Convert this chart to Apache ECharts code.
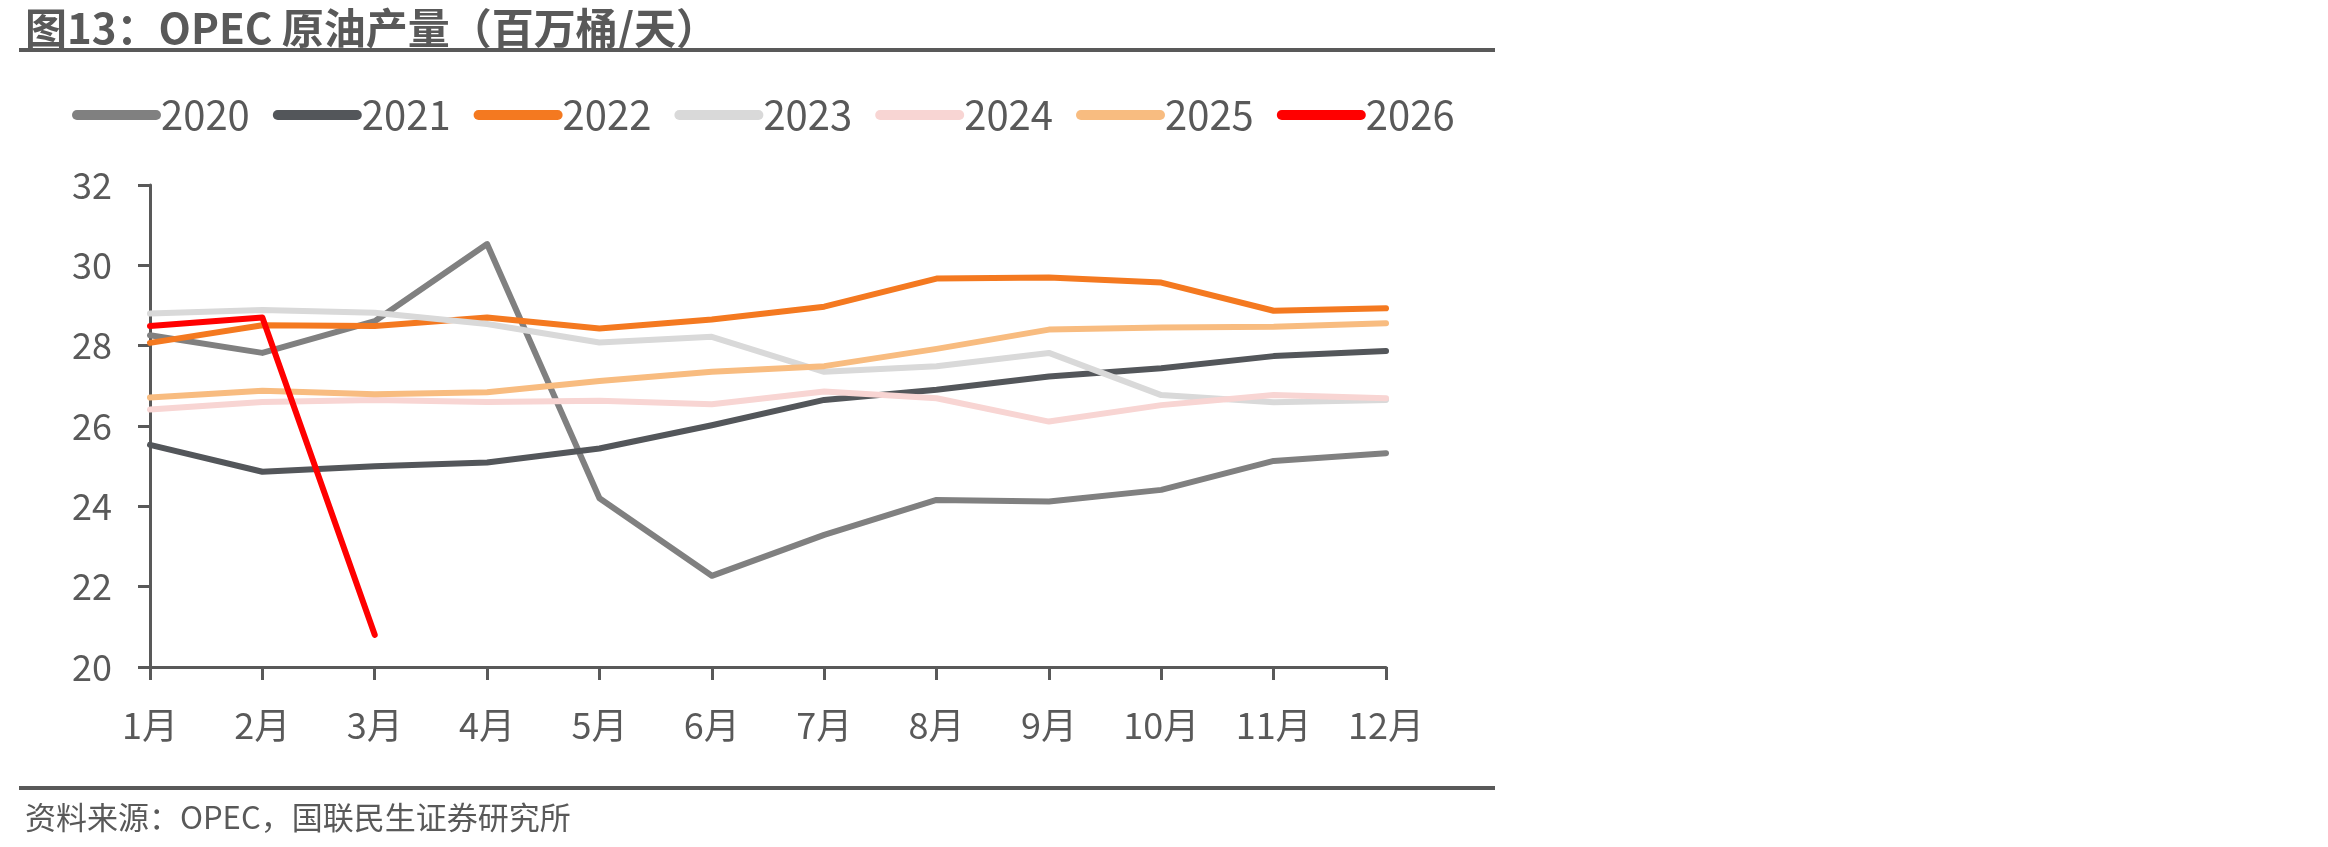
<!DOCTYPE html>
<html>
<head>
<meta charset="utf-8">
<title>OPEC 原油产量</title>
<script src="https://cdn.jsdelivr.net/npm/echarts@6/dist/echarts.min.js"></script>
<style>
  html, body { margin: 0; padding: 0; background: #fff; }
  #chart { width: 2328px; height: 847px; }
</style>
</head>
<body>
<div id="chart"></div>
<script>
// 月份
var months = ['1月', '2月', '3月', '4月', '5月', '6月', '7月', '8月', '9月', '10月', '11月', '12月'];
var years = ['2020', '2021', '2022', '2023', '2024', '2025', '2026'];
var colors = ['#808080', '#53565a', '#f47920', '#d9d9d9', '#f8d5d3', '#f8bc80', '#ff0000'];

// 百万桶/天
var y2020 = [28.26, 27.82, 28.61, 30.53, 24.20, 22.27, 23.29, 24.16, 24.12, 24.41, 25.13, 25.32];
var y2021 = [25.53, 24.86, 25.00, 25.09, 25.44, 26.02, 26.65, 26.90, 27.23, 27.44, 27.74, 27.87];
var y2022 = [28.07, 28.51, 28.49, 28.70, 28.43, 28.65, 28.97, 29.67, 29.70, 29.57, 28.87, 28.93];
var y2023 = [28.80, 28.89, 28.82, 28.54, 28.08, 28.22, 27.35, 27.49, 27.82, 26.77, 26.59, 26.65];
var y2024 = [26.41, 26.60, 26.65, 26.60, 26.63, 26.54, 26.86, 26.69, 26.11, 26.52, 26.77, 26.69];
var y2025 = [26.71, 26.88, 26.79, 26.84, 27.12, 27.35, 27.49, 27.92, 28.40, 28.45, 28.47, 28.56];
var y2026 = [28.49, 28.70, 20.80];

var yTicks = { min: 20, max: 32, interval: 2 };

var allData = [y2020, y2021, y2022, y2023, y2024, y2025, y2026];
var textColor = '#595959';
var font = '"Noto Sans CJK SC", "Noto Sans", sans-serif';

var myChart = echarts.init(document.getElementById('chart'));

var series = years.map(function (name, i) {
    return {
        name: name,
        type: 'line',
        data: allData[i],
        symbol: 'none',
        animation: false,
        lineStyle: { width: 6, color: colors[i], cap: 'round', join: 'round' },
        itemStyle: { color: colors[i] }
    };
});

myChart.setOption({
    color: colors,
    animation: false,
    title: [
        {
            text: '图13：OPEC 原油产量（百万桶/天）',
            left: 20,
            top: 2,
            textStyle: { fontFamily: font, fontSize: 42, fontWeight: 'bold', color: textColor }
        },
        {
            text: '资料来源：OPEC，国联民生证券研究所',
            left: 20,
            top: 797,
            textStyle: { fontFamily: font, fontSize: 31, fontWeight: 'normal', color: textColor }
        }
    ],
    graphic: [
        { type: 'rect', shape: { x: 19, y: 48, width: 1476, height: 4 }, style: { fill: '#595959' } },
        { type: 'rect', shape: { x: 19, y: 786, width: 1476, height: 4 }, style: { fill: '#595959' } }
    ],
    legend: {
        top: 90,
        left: 67,
        itemWidth: 89,
        itemHeight: 10,
        itemGap: 23,
        icon: 'path://M5,0 L85,0 A5,5 0 0 1 85,10 L5,10 A5,5 0 0 1 5,0 Z',
        textStyle: { fontFamily: font, fontSize: 40, color: textColor, padding: [0, 0, 0, -5] },
        data: years
    },
    grid: { left: 150, right: 942, top: 185, bottom: 180, containLabel: false },
    xAxis: {
        type: 'category',
        data: months,
        boundaryGap: false,
        axisLine: { lineStyle: { color: textColor, width: 3 } },
        axisTick: { alignWithLabel: true, length: 13, lineStyle: { color: textColor, width: 3 } },
        axisLabel: { fontFamily: font, fontSize: 36, color: textColor, margin: 40 }
    },
    yAxis: {
        type: 'value',
        min: yTicks.min,
        max: yTicks.max,
        interval: yTicks.interval,
        splitLine: { show: false },
        axisLine: { show: true, lineStyle: { color: textColor, width: 3 } },
        axisTick: { show: true, length: 12, lineStyle: { color: textColor, width: 3 } },
        axisLabel: { fontFamily: font, fontSize: 36, color: textColor, margin: 38 }
    },
    series: series
});
</script>
</body>
</html>
